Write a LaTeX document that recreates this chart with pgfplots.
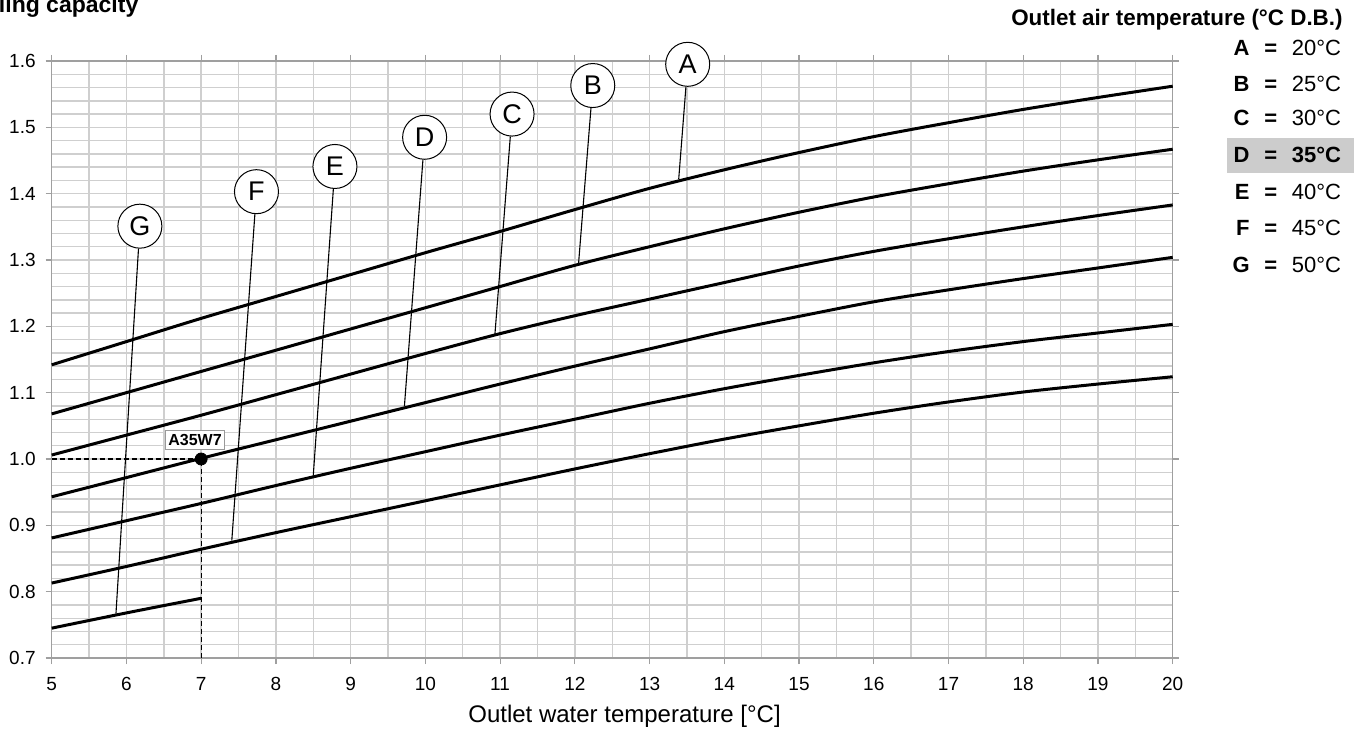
\documentclass[border=0pt]{standalone}
\usepackage{fontspec}
\setmainfont{Liberation Sans}
\usepackage{pgfplots}
\usepackage{pgfplotstable}
\pgfplotsset{compat=1.18}

% capacity factor vs outlet water temperature, one column per air temperature
\pgfplotstableread{
x  A     B     C     D     E     F
5  1.142 1.068 1.006 0.943 0.881 0.813
6  1.177 1.100 1.036 0.972 0.907 0.838
7  1.212 1.132 1.066 1.001 0.933 0.864
8  1.245 1.164 1.097 1.029 0.960 0.889
9  1.278 1.196 1.128 1.057 0.986 0.913
10 1.311 1.228 1.159 1.085 1.011 0.937
11 1.343 1.260 1.189 1.113 1.036 0.961
12 1.376 1.292 1.216 1.140 1.060 0.985
13 1.408 1.320 1.241 1.166 1.084 1.008
14 1.436 1.347 1.266 1.192 1.106 1.030
15 1.462 1.372 1.291 1.215 1.126 1.050
16 1.486 1.395 1.313 1.237 1.145 1.069
17 1.507 1.415 1.332 1.255 1.162 1.086
18 1.527 1.434 1.350 1.272 1.177 1.101
19 1.545 1.451 1.367 1.288 1.190 1.113
20 1.562 1.467 1.383 1.304 1.203 1.124
}\capacity

\pgfplotstableread{
x G
5 0.745
6 0.768
7 0.790
}\capG

\tikzset{
  pin/.style={circle, draw=black, fill=white, line width=0.5pt, minimum size=22pt,
    inner sep=0pt, font=\fontsize{13.5}{15}\selectfont},
  legrow/.style={font=\fontsize{11}{13}\selectfont, inner sep=0pt},
}

\begin{document}
\begin{tikzpicture}
\begin{axis}[
  name=main,
  scale only axis,
  width=560.5pt, height=298.5pt,
  xmin=5, xmax=20, ymin=0.7, ymax=1.6,
  xtick={5,6,...,20},
  ytick={0.7,0.8,0.9,1.0,1.1,1.2,1.3,1.4,1.5,1.6},
  minor x tick num=1, minor y tick num=4,
  grid=both,
  major grid style={gray!38, line width=0.7pt},
  minor grid style={gray!38, line width=0.7pt},
  axis line style={gray!75, line width=0.6pt},
  tick style={gray!75, line width=0.6pt},
  tick align=outside, major tick length=3pt, minor tick length=0pt,
  ticklabel style={font=\fontsize{9.5}{11}\selectfont},
  /pgf/number format/assume math mode=true,
  xticklabel style={yshift=-3pt},
  yticklabel style={xshift=-1.5pt, /pgf/number format/fixed, /pgf/number format/fixed zerofill,
    /pgf/number format/precision=1},
  xlabel={Outlet water temperature [°C]},
  xlabel style={font=\fontsize{12}{14}\selectfont, at={(axis description cs:0.511,0)},
    anchor=center, yshift=-29pt},
  clip=false,
]
\foreach \c in {A,B,C,D,E,F}{
  \addplot[black, line width=1.5pt, smooth, no marks] table[x=x, y=\c] {\capacity};
}
\addplot[black, line width=1.5pt, smooth, no marks] table[x=x, y=G] {\capG};

% A35W7 reference point
\addplot[black, line width=0.6pt, dash pattern=on 2.5pt off 1.5pt] coordinates {(5,1.0) (7,1.0)};
\addplot[black, line width=0.6pt, dash pattern=on 2.5pt off 1.5pt] coordinates {(7,0.7) (7,1.0)};
\addplot[black, only marks, mark=*, mark size=3pt] coordinates {(7,1.0)};
\node[draw=gray!80, fill=white, line width=0.5pt, font=\bfseries\fontsize{8}{9}\selectfont,
  inner xsep=1.5pt, inner ysep=2pt] at (axis cs:6.918,1.0286) {A35W7};

% curve labels
\node[pin] (pG) at (axis cs:6.18,1.351) {G};
\node[pin] (pF) at (axis cs:7.74,1.403) {F};
\node[pin] (pE) at (axis cs:8.79,1.441) {E};
\node[pin] (pD) at (axis cs:9.99,1.485) {D};
\node[pin] (pC) at (axis cs:11.16,1.520) {C};
\node[pin] (pB) at (axis cs:12.24,1.563) {B};
\node[pin] (pA) at (axis cs:13.51,1.595) {A};
\draw[black, line width=0.55pt] (axis cs:5.86,0.767) -- (pG);
\draw[black, line width=0.55pt] (axis cs:7.41,0.877) -- (pF);
\draw[black, line width=0.55pt] (axis cs:8.50,0.975) -- (pE);
\draw[black, line width=0.55pt] (axis cs:9.72,1.080) -- (pD);
\draw[black, line width=0.55pt] (axis cs:10.93,1.187) -- (pC);
\draw[black, line width=0.55pt] (axis cs:12.05,1.295) -- (pB);
\draw[black, line width=0.55pt] (axis cs:13.39,1.422) -- (pA);
\end{axis}

% top-left title, cut by the page edge as in the original
\node[anchor=base east, font=\bfseries\fontsize{11.5}{14}\selectfont, inner sep=0pt]
  at (43.5pt,322.5pt) {Cooling capacity};

% outlet air temperature key
\node[anchor=east, font=\bfseries\fontsize{11.2}{13}\selectfont, inner sep=0pt]
  at (645.65pt,319pt) {Outlet air temperature (°C D.B.)};
\fill[gray!40] (587.65pt,242.5pt) rectangle (651.15pt,260pt);
\foreach \l/\v/\yy in {A/20/305, B/25/287, C/30/270, E/40/233, F/45/215, G/50/196.5}{
  \node[legrow, anchor=base east] at (599.15pt,\yy pt-3.95pt) {\textbf{\l}};
  \node[legrow, anchor=base] at (609.5pt,\yy pt-3.95pt) {\textbf{=}};
  \node[legrow, anchor=base west] at (619.9pt,\yy pt-3.95pt) {\v°C};
}
\node[legrow, anchor=base east] at (599.15pt,247.55pt) {\textbf{D}};
\node[legrow, anchor=base] at (609.5pt,247.55pt) {\textbf{=}};
\node[legrow, anchor=base west] at (619.9pt,247.55pt) {\textbf{35°C}};

\pgfresetboundingbox
\useasboundingbox (-25.85pt,-38pt) rectangle (655.65pt,329pt);
\end{tikzpicture}
\end{document}
